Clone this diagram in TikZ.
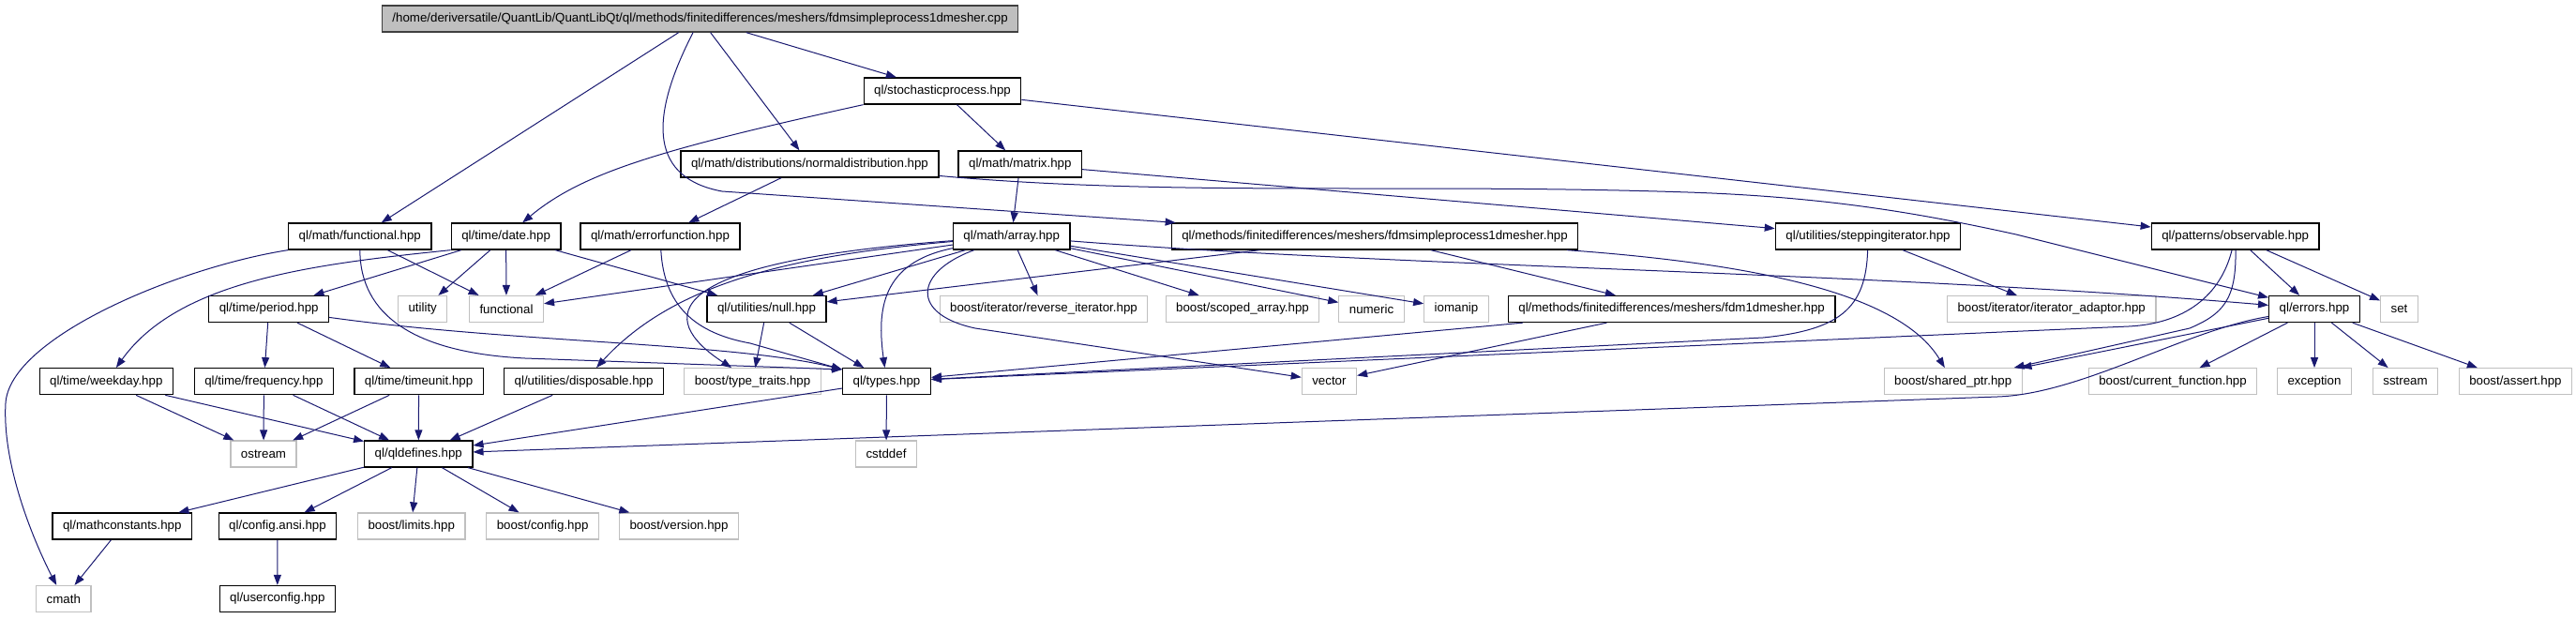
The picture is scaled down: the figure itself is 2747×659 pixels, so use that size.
\documentclass[tikz,border=0pt]{standalone}
\usepackage{fontspec}
\setmainfont{Liberation Sans}
\usetikzlibrary{arrows.meta}
\definecolor{depblue}{HTML}{191970}
\definecolor{sysgray}{HTML}{C0C0C0}
\definecolor{rootfill}{HTML}{BFBFBF}

\begin{document}
\begin{tikzpicture}[
    x=1pt,
    y=-1pt,
    font=\fontsize{13.3}{15}\selectfont,
    qlfile/.style={draw=black, line width=1.3pt, fill=white, inner xsep=11pt, inner ysep=0pt, minimum height=28pt},
    sysfile/.style={draw=sysgray, line width=1.2pt, fill=white, inner xsep=11pt, inner ysep=0pt, minimum height=28pt},
    rootfile/.style={qlfile, draw=black!75, fill=rootfill},
    dep/.style={draw=depblue, line width=1pt, -{Triangle[length=11pt,width=8pt]}}
]
\useasboundingbox (0,0) rectangle (2747,659);

% row 0 to 3
\node[rootfile] (root) at (746.6,20) {/home/deriversatile/QuantLib/QuantLibQt/ql/methods/finitedifferences/meshers/fdmsimpleprocess1dmesher.cpp};
\node[qlfile] (stochproc) at (1005,97) {ql/stochasticprocess.hpp};
\node[qlfile] (normdist) at (863.5,175) {ql/math/distributions/normaldistribution.hpp};
\node[qlfile] (matrix) at (1087.8,175) {ql/math/matrix.hpp};
\node[qlfile] (mathfunc) at (383.8,252) {ql/math/functional.hpp};
\node[qlfile] (date) at (539.6,252) {ql/time/date.hpp};
\node[qlfile] (errfunc) at (704,252) {ql/math/errorfunction.hpp};
\node[qlfile] (array) at (1078.7,252) {ql/math/array.hpp};
\node[qlfile] (fdmsimple) at (1466,252) {ql/methods/finitedifferences/meshers/fdmsimpleprocess1dmesher.hpp};
\node[qlfile] (stepiter) at (1992,252) {ql/utilities/steppingiterator.hpp};
\node[qlfile] (observable) at (2383.7,252) {ql/patterns/observable.hpp};

% row 4
\node[qlfile] (period) at (286.7,329.5) {ql/time/period.hpp};
\node[sysfile] (utility) at (450.7,329.5) {utility};
\node[sysfile] (functional) at (540,329.5) {functional};
\node[qlfile] (nullhpp) at (817.5,329.5) {ql/utilities/null.hpp};
\node[sysfile] (reviter) at (1113,329.5) {boost/iterator/reverse\_iterator.hpp};
\node[sysfile] (scopedarr) at (1325,329.5) {boost/scoped\_array.hpp};
\node[sysfile] (numeric) at (1462.5,329.5) {numeric};
\node[sysfile] (iomanip) at (1553,329.5) {iomanip};
\node[qlfile] (fdmmesher) at (1782.6,329.5) {ql/methods/finitedifferences/meshers/fdm1dmesher.hpp};
\node[sysfile] (iteradapt) at (2187.7,329.5) {boost/iterator/iterator\_adaptor.hpp};
\node[qlfile] (errors) at (2468,329.5) {ql/errors.hpp};
\node[sysfile] (set) at (2558.5,329.5) {set};

% row 5
\node[qlfile] (weekday) at (113.3,406.7) {ql/time/weekday.hpp};
\node[qlfile] (frequency) at (281.4,406.7) {ql/time/frequency.hpp};
\node[qlfile] (timeunit) at (446.6,406.7) {ql/time/timeunit.hpp};
\node[qlfile] (disposable) at (622.6,406.7) {ql/utilities/disposable.hpp};
\node[sysfile] (typetraits) at (802.5,406.7) {boost/type\_traits.hpp};
\node[qlfile] (types) at (945.5,406.7) {ql/types.hpp};
\node[sysfile] (vector) at (1417.4,406.7) {vector};
\node[sysfile] (sharedptr) at (2082.7,406.7) {boost/shared\_ptr.hpp};
\node[sysfile] (curfunc) at (2317,406.7) {boost/current\_function.hpp};
\node[sysfile] (exception) at (2468,406.7) {exception};
\node[sysfile] (sstream) at (2565,406.7) {sstream};
\node[sysfile] (bassert) at (2682.4,406.7) {boost/assert.hpp};

% rows 6 to 8
\node[sysfile] (ostream) at (281,484) {ostream};
\node[qlfile] (qldefines) at (446.3,484) {ql/qldefines.hpp};
\node[sysfile] (cstddef) at (945,484) {cstddef};
\node[qlfile] (mathconst) at (130.3,561) {ql/mathconstants.hpp};
\node[qlfile] (configansi) at (296,561) {ql/config.ansi.hpp};
\node[sysfile] (blimits) at (438.7,561) {boost/limits.hpp};
\node[sysfile] (bconfig) at (578.6,561) {boost/config.hpp};
\node[sysfile] (bversion) at (724,561) {boost/version.hpp};
\node[sysfile] (cmath) at (67.8,638.5) {cmath};
\node[qlfile] (userconfig) at (295.8,638.5) {ql/userconfig.hpp};

% includes of the .cpp
\draw[dep] (root) -- (mathfunc);
\draw[dep] (root) .. controls (690,130) and (695,190) .. (770,204) -- (fdmsimple);
\draw[dep] (root) -- (normdist);
\draw[dep] (root) -- (stochproc);

% stochasticprocess.hpp
\draw[dep] (stochproc.south west) .. controls (700,160) and (620,185) .. (date);
\draw[dep] (stochproc) -- (matrix);
\draw[dep] (stochproc) -- (observable);

% normaldistribution.hpp
\draw[dep] (normdist) -- (errfunc);
\draw[dep] (normdist) .. controls (1250,210) and (1500,195) .. (1800,205) .. controls (1950,210) and (2050,228) .. (2150,250) -- (errors);

% matrix.hpp
\draw[dep] (matrix) -- (array);
\draw[dep] (matrix) -- (stepiter);

% math/functional.hpp
\draw[dep] (mathfunc) -- (functional);
\draw[dep] (mathfunc.south west) .. controls (190,285) and (10,360) .. (6,430) .. controls (2,500) and (40,585) .. (cmath);
\draw[dep] (mathfunc) .. controls (384,335) and (440,376) .. (560,382) -- (types.165);

% date.hpp
\draw[dep] (date) -- (period);
\draw[dep] (date) -- (utility);
\draw[dep] (date) -- (functional);
\draw[dep] (date) -- (nullhpp);
\draw[dep] (date.south west) .. controls (330,282) and (190,300) .. (weekday);

% errorfunction.hpp
\draw[dep] (errfunc) -- (functional);
\draw[dep] (errfunc) .. controls (708,325) and (740,355) .. (800,366) -- (types.165);

% array.hpp
\draw[dep] (array) -- (functional);
\draw[dep] (array) -- (nullhpp);
\draw[dep] (array) .. controls (850,272) and (720,300) .. (disposable);
\draw[dep] (array) .. controls (700,280) and (700,340) .. (typetraits);
\draw[dep] (array) .. controls (940,280) and (935,330) .. (types);
\draw[dep] (array) .. controls (975,290) and (970,335) .. (1040,350) -- (vector);
\draw[dep] (array) -- (reviter);
\draw[dep] (array) -- (scopedarr);
\draw[dep] (array) -- (numeric);
\draw[dep] (array) -- (iomanip);
\draw[dep] (array) .. controls (1500,285) and (2000,290) .. (errors);

% fdmsimpleprocess1dmesher.hpp
\draw[dep] (fdmsimple) -- (fdmmesher);
\draw[dep] (fdmsimple) -- (nullhpp);
\draw[dep] (fdmsimple) .. controls (1900,283) and (2030,320) .. (sharedptr);

% fdm1dmesher.hpp
\draw[dep] (fdmmesher) -- (types);
\draw[dep] (fdmmesher) -- (vector);

% steppingiterator.hpp
\draw[dep] (stepiter) -- (iteradapt);
\draw[dep] (stepiter) .. controls (1990,330) and (1960,352) .. (1880,360) -- (types);

% observable.hpp
\draw[dep] (observable) -- (errors);
\draw[dep] (observable) -- (set);
\draw[dep] (observable) .. controls (2368,315) and (2330,345) .. (2270,348) -- (types);
\draw[dep] (observable) .. controls (2385,320) and (2370,335) .. (2335,350) -- (sharedptr);

% errors.hpp
\draw[dep] (errors) -- (sharedptr);
\draw[dep] (errors) .. controls (2330,352) and (2220,420) .. (2130,423) -- (qldefines);
\draw[dep] (errors) -- (curfunc);
\draw[dep] (errors) -- (exception);
\draw[dep] (errors) -- (sstream);
\draw[dep] (errors) -- (bassert);

% null.hpp and period.hpp
\draw[dep] (nullhpp) -- (typetraits);
\draw[dep] (nullhpp) -- (types);
\draw[dep] (period) -- (frequency);
\draw[dep] (period) -- (timeunit);
\draw[dep] (period) .. controls (550,366) and (780,365) .. (types.165);

% row 5 to qldefines
\draw[dep] (weekday) -- (ostream);
\draw[dep] (weekday) -- (qldefines);
\draw[dep] (frequency) -- (ostream);
\draw[dep] (frequency) -- (qldefines);
\draw[dep] (timeunit) -- (ostream);
\draw[dep] (timeunit) -- (qldefines);
\draw[dep] (disposable) -- (qldefines);
\draw[dep] (types) -- (qldefines);
\draw[dep] (types) -- (cstddef);

% qldefines.hpp
\draw[dep] (qldefines) -- (mathconst);
\draw[dep] (qldefines) -- (configansi);
\draw[dep] (qldefines) -- (blimits);
\draw[dep] (qldefines) -- (bconfig);
\draw[dep] (qldefines) -- (bversion);
\draw[dep] (mathconst) -- (cmath);
\draw[dep] (configansi) -- (userconfig);
\end{tikzpicture}
\end{document}
